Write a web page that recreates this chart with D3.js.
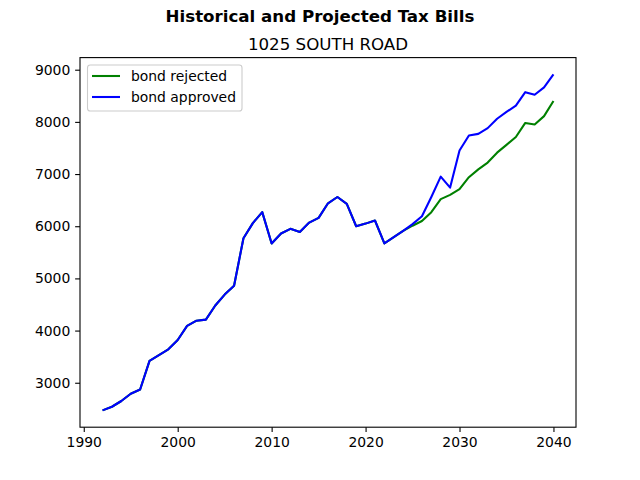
<!DOCTYPE html>
<html>
<head>
<meta charset="utf-8">
<script src="https://cdn.jsdelivr.net/npm/d3@7"></script>
<style>
html,body{margin:0;padding:0;background:#fff;}
svg{display:block;font-family:"DejaVu Sans",sans-serif;}
</style>
</head>
<body>
<svg id="chart" width="640" height="480"></svg>
<script>
const years = d3.range(1992, 2041);
const approved = [2470,2540,2650,2790,2870,3420,3530,3640,3820,4090,4190,4210,4480,4690,4860,5770,6060,6270,5670,5860,5950,5890,6070,6160,6440,6560,6430,6000,6050,6110,5670,5790,5910,6040,6190,6560,6950,6740,7450,7740,7770,7880,8060,8190,8310,8570,8520,8660,8910];
const rejected = [2470,2540,2650,2790,2870,3420,3530,3640,3820,4090,4190,4210,4480,4690,4860,5770,6060,6270,5670,5860,5950,5890,6070,6160,6440,6560,6430,6000,6050,6110,5670,5790,5910,6010,6100,6270,6520,6600,6710,6940,7090,7220,7410,7560,7710,7980,7950,8110,8400];
const seriesNames = ["bond rejected","bond approved"];
const seriesColors = ["#008000","#0000ff"];
const xTicks = [1990,2000,2010,2020,2030,2040];
const yTicks = [3000,4000,5000,6000,7000,8000,9000];
const mainTitle = "Historical and Projected Tax Bills";
const subTitle = "1025 SOUTH ROAD";

const svg = d3.select("#chart");
const L = 80, R = 576, T = 57.6, B = 427.2;

const xMin = d3.min(years), xMax = d3.max(years);
const xPad = (xMax - xMin) * 0.05;
const allY = approved.concat(rejected);
const yMin = d3.min(allY), yMax = d3.max(allY);
const yPad = (yMax - yMin) * 0.05;

const x = d3.scaleLinear().domain([xMin - xPad, xMax + xPad]).range([L, R]);
const y = d3.scaleLinear().domain([yMin - yPad, yMax + yPad]).range([B, T]);

const series = [rejected, approved];
const line = d3.line().x((d,i)=>x(years[i])).y(d=>y(d));

const g = svg.append("g");
series.forEach((s, k) => {
  g.append("path").datum(s)
    .attr("d", line)
    .attr("fill","none")
    .attr("stroke", seriesColors[k])
    .attr("stroke-width", 2.08)
    .attr("stroke-linejoin","round")
    .attr("stroke-linecap","butt");
});

// axes
const xAxis = d3.axisBottom(x).tickValues(xTicks).tickFormat(d3.format("d")).tickSize(4.86).tickPadding(4.86);
const yAxis = d3.axisLeft(y).tickValues(yTicks).tickFormat(d3.format("d")).tickSize(4.86).tickPadding(4.86);
const gx = svg.append("g").attr("transform", `translate(0,${B})`).call(xAxis);
const gy = svg.append("g").attr("transform", `translate(${L},0)`).call(yAxis);
[gx, gy].forEach(a => {
  a.select(".domain").remove();
  a.selectAll(".tick line").attr("stroke","#000").attr("stroke-width",1.1);
  a.selectAll(".tick text").attr("fill","#000").style("font-size","13.9px").style("font-family","DejaVu Sans");
});

// frame
svg.append("rect").attr("x",L).attr("y",T).attr("width",R-L).attr("height",B-T)
  .attr("fill","none").attr("stroke","#000").attr("stroke-width",1.1);

// titles
svg.append("text").attr("x",320).attr("y",22).attr("text-anchor","middle")
  .style("font-size","16.67px").style("font-weight","bold").text(mainTitle);
svg.append("text").attr("x",(L+R)/2).attr("y",49.5).attr("text-anchor","middle")
  .style("font-size","16.67px").text(subTitle);

// legend
const lg = svg.append("g");
lg.append("rect").attr("x",87.5).attr("y",65).attr("width",154.5).attr("height",46)
  .attr("rx",2.8).attr("fill","#fff").attr("fill-opacity",0.8)
  .attr("stroke","#cccccc").attr("stroke-width",1.1);
seriesNames.forEach((n,k)=>{
  const cy = 76 + k*21;
  lg.append("line").attr("x1",92).attr("x2",120).attr("y1",cy).attr("y2",cy)
    .attr("stroke",seriesColors[k]).attr("stroke-width",2.08);
  lg.append("text").attr("x",131).attr("y",cy+5).style("font-size","13.9px").text(n);
});
</script>
</body>
</html>
